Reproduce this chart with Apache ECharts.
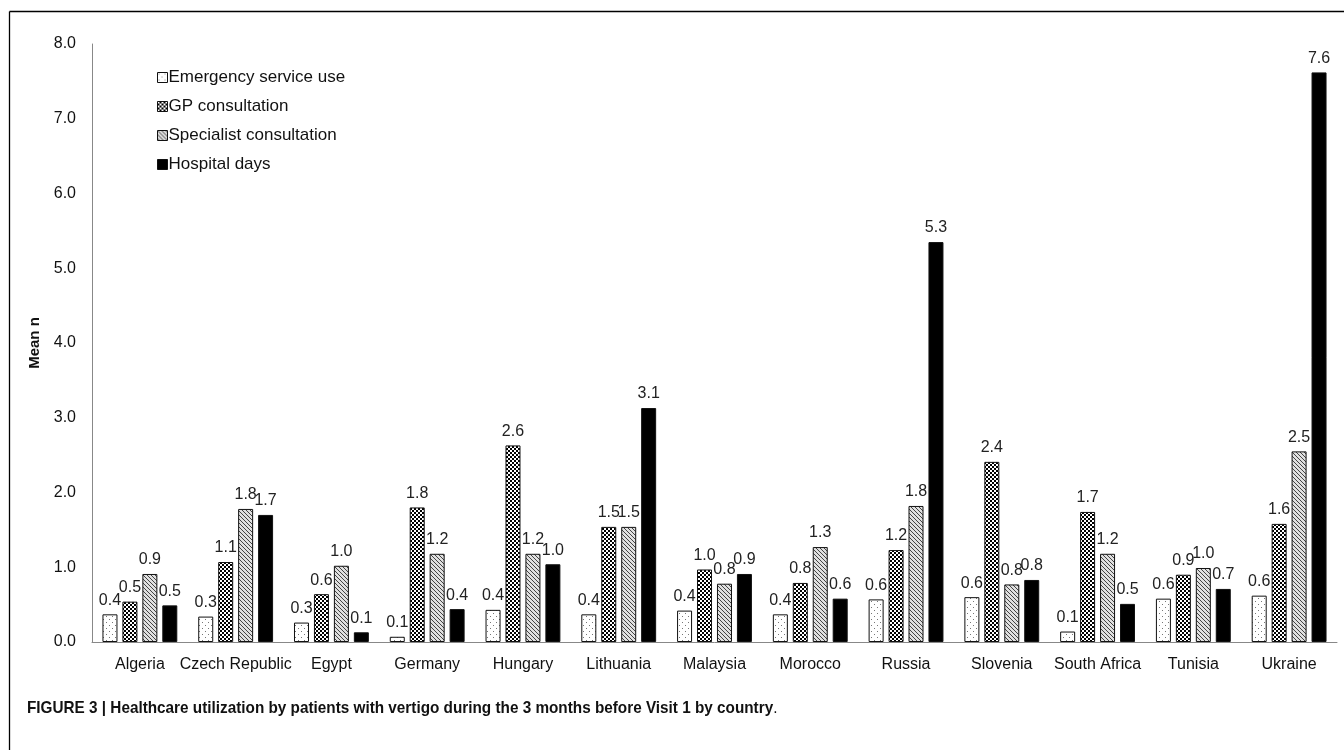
<!DOCTYPE html>
<html>
<head>
<meta charset="utf-8">
<script src="https://cdn.jsdelivr.net/npm/echarts@6/dist/echarts.min.js"></script>
<style>
html,body{margin:0;padding:0;background:#fff;}
#c{width:1344px;height:750px;}
</style>
</head>
<body>
<div id="c"></div>
<script>
var categories = ['Algeria','Czech Republic','Egypt','Germany','Hungary','Lithuania','Malaysia','Morocco','Russia','Slovenia','South Africa','Tunisia','Ukraine'];
var emergency  = [0.37,0.34,0.26,0.07,0.43,0.37,0.42,0.37,0.57,0.60,0.14,0.58,0.62];
var gp         = [0.54,1.07,0.64,1.80,2.63,1.54,0.97,0.79,1.23,2.41,1.74,0.90,1.58];
var specialist = [0.91,1.78,1.02,1.18,1.18,1.54,0.78,1.27,1.82,0.77,1.18,0.99,2.55];
var hospital   = [0.49,1.70,0.13,0.44,1.04,3.13,0.91,0.58,5.35,0.83,0.51,0.71,7.62];
var seriesNames = ['Emergency service use','GP consultation','Specialist consultation','Hospital days'];
var yTicks = [0,1,2,3,4,5,6,7,8];

function tile(size, draw){
  var cv = document.createElement('canvas');
  cv.width = size; cv.height = size;
  var ctx = cv.getContext('2d');
  draw(ctx, size);
  return {image: cv, repeat: 'repeat'};
}
var dotPat = tile(6, function(ctx,s){
  ctx.fillStyle='#fff'; ctx.fillRect(0,0,s,s);
  ctx.fillStyle='#777'; ctx.fillRect(1,1,1,1); ctx.fillRect(4,4,1,1);
});
var checkPat = tile(4, function(ctx,s){
  ctx.fillStyle='#000'; ctx.fillRect(0,0,s,s);
  ctx.fillStyle='#fff'; ctx.fillRect(0,0,2,2); ctx.fillRect(2,2,2,2);
});
var hatchPat = tile(4, function(ctx,s){
  ctx.fillStyle='#e0e0e0'; ctx.fillRect(0,0,s,s);
  ctx.fillStyle='#444';
  for (var i=0;i<s;i++){ ctx.fillRect(i,i,1,1); }
});
var fills = [dotPat, checkPat, hatchPat, '#000'];
var dataSets = [emergency, gp, specialist, hospital];

var chart = echarts.init(document.getElementById('c'));
var FONT = 'Liberation Sans, Arial, sans-serif';
var series = dataSets.map(function(d, i){
  return {
    name: seriesNames[i],
    type: 'bar',
    data: d,
    barWidth: 15,
    barGap: '33%',
    itemStyle: {color: fills[i], borderColor: '#111', borderWidth: 1},
    label: {
      show: true, position: 'top', distance: 6,
      fontFamily: FONT, fontSize: 16, color: '#222',
      formatter: function(p){ return p.value.toFixed(1); }
    }
  };
});

chart.setOption({
  animation: false,
  backgroundColor: '#fff',
  grid: {left: 92, right: 7, top: 44, bottom: 108},
  legend: {
    orient: 'vertical', left: 152, top: 64,
    itemWidth: 10, itemHeight: 10, itemGap: 12,
    data: seriesNames,
    textStyle: {fontFamily: FONT, fontSize: 17, color: '#111', padding: [0,0,0,-4]},
    icon: 'rect',
    itemStyle: {borderColor: '#111', borderWidth: 1}
  },
  xAxis: {
    type: 'category', data: categories,
    axisLine: {lineStyle: {color: '#888'}},
    axisTick: {show: false},
    axisLabel: {fontFamily: FONT, fontSize: 16, color: '#111', margin: 15, interval: 0}
  },
  yAxis: {
    type: 'value', min: yTicks[0], max: yTicks[yTicks.length-1], interval: 1,
    name: 'Mean n', nameLocation: 'middle', nameGap: 46,
    nameTextStyle: {fontFamily: FONT, fontSize: 15, fontWeight: 'bold', color: '#111'},
    axisLine: {show: true, lineStyle: {color: '#888'}},
    axisTick: {show: false},
    splitLine: {show: false},
    axisLabel: {fontFamily: FONT, fontSize: 16, color: '#111', margin: 16,
      formatter: function(v){ return v.toFixed(1); }}
  },
  graphic: [
    {type: 'line', shape: {x1: 9.5, y1: 11.5, x2: 1344, y2: 11.5}, style: {stroke: '#000', lineWidth: 1.3}},
    {type: 'line', shape: {x1: 9.5, y1: 11.5, x2: 9.5, y2: 750}, style: {stroke: '#000', lineWidth: 1.3}},
    {type: 'text', x: 27, y: 700, scaleX: 0.9, style: {
      rich: {b: {fontFamily: FONT, fontSize: 17, fontWeight: 'bold', fill: '#111'},
             n: {fontFamily: FONT, fontSize: 17, fill: '#111'}},
      text: '{b|FIGURE 3 | Healthcare utilization by patients with vertigo during the 3 months before Visit 1 by country}{n|.}'
    }}
  ],
  series: series
});
</script>
</body>
</html>
